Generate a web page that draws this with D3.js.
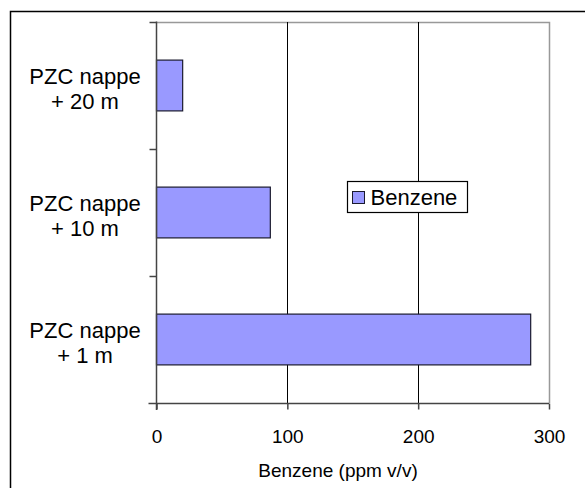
<!DOCTYPE html>
<html>
<head>
<meta charset="utf-8">
<script src="https://cdn.jsdelivr.net/npm/d3@7"></script>
<style>
  body { margin: 0; background: #fff; }
  text { font-family: Arial, "Liberation Sans", sans-serif; fill: #000; }
</style>
</head>
<body>
<div id="container"></div>
<script>
var categories = ["PZC nappe + 20 m", "PZC nappe + 10 m", "PZC nappe + 1 m"];
var benzene = [20, 87, 286];
var xTicks = [0, 100, 200, 300];
var seriesName = "Benzene";
var xTitle = "Benzene (ppm v/v)";

var width = 585, height = 488;
var margin = { top: 22, right: 36, bottom: 85, left: 156.5 };

var svg = d3.select("#container").append("svg")
            .attr("width", width)
            .attr("height", height);

// outer chart border (runs off the right and bottom edge)
svg.append("rect")
   .attr("x", 10.5).attr("y", 11.5)
   .attr("width", 600).attr("height", 500)
   .attr("fill", "none")
   .attr("stroke", "#000")
   .attr("stroke-width", 1.5);

var x = d3.scaleLinear()
          .domain([0, 300])
          .range([margin.left, width - margin.right]);

var y = d3.scaleBand()
          .domain(categories)
          .range([margin.top, height - margin.bottom])
          .paddingInner(0.6)
          .paddingOuter(0.3);

var plotBottom = height - margin.bottom;

// plot area frame (top + right) in grey
svg.append("path")
   .attr("d", "M" + x(0) + "," + (margin.top + 0.5) + "H" + (x(300) + 0.5) + "V" + plotBottom)
   .attr("fill", "none")
   .attr("stroke", "#999")
   .attr("stroke-width", 1.5);

// gridlines
svg.selectAll("line.grid")
   .data(xTicks.filter(function(d) { return d > 0 && d < 300; }))
   .enter()
   .append("line")
   .attr("class", "grid")
   .attr("x1", function(d) { return Math.round(x(d)) + 0.5; })
   .attr("x2", function(d) { return Math.round(x(d)) + 0.5; })
   .attr("y1", margin.top)
   .attr("y2", plotBottom)
   .attr("stroke", "#000")
   .attr("stroke-width", 1);

// bars
svg.selectAll("rect.bar")
   .data(categories)
   .enter()
   .append("rect")
   .attr("class", "bar")
   .attr("x", x(0))
   .attr("y", function(d) { return y(d); })
   .attr("width", function(d, i) { return x(benzene[i]) - x(0); })
   .attr("height", y.bandwidth())
   .attr("fill", "#9999ff")
   .attr("stroke", "#1a1a2e")
   .attr("stroke-width", 1.2);

// x axis
var xAxis = d3.axisBottom(x)
              .tickValues(xTicks)
              .tickSize(6)
              .tickSizeOuter(0)
              .tickPadding(20);

var gx = svg.append("g")
            .attr("transform", "translate(0," + (plotBottom + 0.5) + ")")
            .call(xAxis);
gx.select(".domain").attr("stroke", "#444").attr("stroke-width", 1.5)
  .attr("d", "M" + (x(0) - 8) + ",0H" + x(300));
gx.selectAll(".tick line").attr("stroke", "#444").attr("stroke-width", 1.5);
gx.selectAll(".tick text")
  .style("font-size", "19px")
  .style("font-family", "Arial, 'Liberation Sans', sans-serif")
  .attr("fill", "#000");

// y axis: line plus ticks at band boundaries
svg.append("line")
   .attr("x1", x(0)).attr("x2", x(0))
   .attr("y1", margin.top - 0.5).attr("y2", plotBottom + 7)
   .attr("stroke", "#444")
   .attr("stroke-width", 1.5);

var bounds = d3.range(categories.length).map(function(i) {
  return margin.top + i * (plotBottom - margin.top) / categories.length;
});
svg.selectAll("line.ytick")
   .data(bounds)
   .enter()
   .append("line")
   .attr("class", "ytick")
   .attr("x1", x(0) - 7).attr("x2", x(0))
   .attr("y1", function(d) { return Math.round(d) + 0.5; })
   .attr("y2", function(d) { return Math.round(d) + 0.5; })
   .attr("stroke", "#444")
   .attr("stroke-width", 1.5);

// category labels, two lines each
var labels = svg.selectAll("text.cat")
   .data(categories)
   .enter()
   .append("text")
   .attr("class", "cat")
   .attr("text-anchor", "middle")
   .style("font-size", "22px");

labels.append("tspan")
      .attr("x", 85)
      .attr("y", function(d) { return y(d) + y.bandwidth() / 2 - 1.5; })
      .text(function(d) { return d.split(" + ")[0]; });
labels.append("tspan")
      .attr("x", 85)
      .attr("y", function(d) { return y(d) + y.bandwidth() / 2 + 23.5; })
      .text(function(d) { return "+ " + d.split(" + ")[1]; });

// axis title
svg.append("text")
   .attr("x", 338)
   .attr("y", 477)
   .attr("text-anchor", "middle")
   .style("font-size", "19px")
   .text(xTitle);

// legend
var lg = svg.append("g").attr("transform", "translate(347.5,181.5)");
lg.append("rect")
  .attr("width", 120).attr("height", 31)
  .attr("fill", "#fff")
  .attr("stroke", "#000")
  .attr("stroke-width", 1.2);
lg.append("rect")
  .attr("x", 5).attr("y", 10)
  .attr("width", 12).attr("height", 12)
  .attr("fill", "#9999ff")
  .attr("stroke", "#1a1a2e");
lg.append("text")
  .attr("x", 23).attr("y", 23.5)
  .style("font-size", "22px")
  .text(seriesName);
</script>
</body>
</html>
